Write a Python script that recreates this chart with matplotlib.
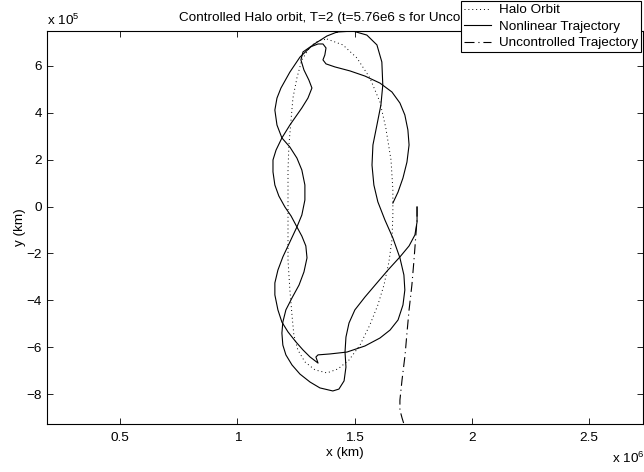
import numpy as np
import matplotlib
matplotlib.use("Agg")
import matplotlib.pyplot as plt
from matplotlib.ticker import FuncFormatter

plt.rcParams['font.family'] = ['Liberation Sans', 'DejaVu Sans']
plt.rcParams['font.size'] = 9.7
plt.rcParams['mathtext.default'] = 'regular'

# x in units of 1e6 km, y in units of 1e5 km
halo_x = [1.382, 1.450, 1.510, 1.565, 1.608, 1.633, 1.655, 1.663, 1.663, 1.659,
          1.646, 1.625, 1.599, 1.565, 1.523, 1.476, 1.429, 1.382, 1.331, 1.288,
          1.258, 1.241, 1.233, 1.224, 1.216, 1.216, 1.216, 1.216, 1.220, 1.229,
          1.237, 1.254, 1.275, 1.310, 1.344, 1.382]
halo_y = [7.15, 6.90, 6.34, 5.49, 4.46, 3.35, 1.99, 0.71, -0.36, -1.43,
          -2.37, -3.35, -4.20, -5.05, -5.91, -6.55, -6.93, -7.10, -6.97, -6.63,
          -6.12, -5.48, -4.63, -3.56, -2.28, -1.00, 0.28, 1.56, 2.63, 3.70,
          4.63, 5.49, 6.26, 6.81, 7.07, 7.15]

# nonlinear trajectory, first pass (starts at the offset point)
traj1_x = [1.766, 1.766, 1.757, 1.732, 1.693, 1.642, 1.595, 1.544, 1.501, 1.476,
           1.463, 1.459, 1.463, 1.455, 1.433, 1.407, 1.352, 1.310, 1.267, 1.233,
           1.207, 1.194, 1.190, 1.194, 1.207, 1.233, 1.263, 1.284, 1.297, 1.292,
           1.275, 1.254, 1.229, 1.203, 1.177, 1.160, 1.152, 1.152, 1.165, 1.190,
           1.224, 1.275, 1.301, 1.318, 1.305, 1.284, 1.271, 1.280, 1.310, 1.344,
           1.365, 1.378, 1.373, 1.365, 1.378, 1.416, 1.480, 1.544, 1.608, 1.659,
           1.693, 1.714, 1.727, 1.732, 1.723, 1.706, 1.685, 1.663]
traj1_y = [-0.02, -0.66, -1.21, -1.68, -2.15, -2.71, -3.26, -3.86, -4.41, -4.97,
           -5.57, -6.21, -6.85, -7.44, -7.79, -7.87, -7.74, -7.49, -7.15, -6.76,
           -6.33, -5.91, -5.40, -4.93, -4.41, -3.90, -3.35, -2.79, -2.19, -1.68,
           -1.26, -0.87, -0.40, -0.02, 0.45, 0.92, 1.48, 1.99, 2.41, 2.93,
           3.48, 4.21, 4.63, 5.06, 5.40, 5.83, 6.26, 6.60, 6.81, 6.94,
           6.94, 6.77, 6.47, 6.26, 6.09, 5.96, 5.79, 5.57, 5.27, 4.89,
           4.42, 3.91, 3.27, 2.63, 1.90, 1.22, 0.62, 0.15]

# nonlinear trajectory, outer loop
traj2_x = [1.425, 1.493, 1.552, 1.595, 1.616, 1.620, 1.612, 1.595, 1.578, 1.574,
           1.582, 1.599, 1.629, 1.663, 1.693, 1.710, 1.714, 1.706, 1.685, 1.651,
           1.608, 1.544, 1.467, 1.395, 1.344, 1.335, 1.344, 1.310, 1.280, 1.250,
           1.216, 1.190, 1.173, 1.160, 1.160, 1.173, 1.194, 1.224, 1.254, 1.275,
           1.288, 1.288, 1.275, 1.254, 1.224, 1.190, 1.169, 1.160, 1.169, 1.186,
           1.224, 1.267, 1.322, 1.382, 1.425]
traj2_y = [7.45, 7.49, 7.32, 6.90, 6.17, 5.19, 4.34, 3.48, 2.63, 1.77,
           0.92, 0.20, -0.57, -1.34, -2.19, -2.92, -3.56, -4.20, -4.84, -5.27,
           -5.61, -5.95, -6.21, -6.29, -6.33, -6.42, -6.68, -6.42, -6.12, -5.78,
           -5.35, -4.93, -4.41, -3.77, -3.26, -2.71, -2.15, -1.51, -0.87, -0.36,
           0.28, 0.92, 1.56, 2.07, 2.54, 2.93, 3.48, 4.12, 4.63, 5.06,
           5.74, 6.38, 6.90, 7.28, 7.45]

unc_x = [1.766, 1.766, 1.761, 1.753, 1.744, 1.732, 1.723, 1.715, 1.702, 1.693,
         1.693, 1.702, 1.710]
unc_y = [0.0, -0.57, -1.21, -2.28, -3.35, -4.41, -5.40, -6.33, -7.40, -8.26,
         -8.68, -9.02, -9.28]

xticks = [0.5, 1, 1.5, 2, 2.5]
yticks = [-8, -6, -4, -2, 0, 2, 4, 6]

fig = plt.figure(figsize=(6.44, 4.72), dpi=100)
ax = fig.add_axes([0.0725, 0.1017, 0.9252, 0.8333])

ax.plot(np.array(halo_x) * 1e6, np.array(halo_y) * 1e5, color='k',
        ls=(0, (1, 3)), lw=0.7, label='Halo Orbit')
ax.plot(np.array(traj1_x) * 1e6, np.array(traj1_y) * 1e5, color='k', lw=0.8,
        label='Nonlinear Trajectory')
ax.plot(np.array(traj2_x) * 1e6, np.array(traj2_y) * 1e5, color='k', lw=0.8,
        label='_nolegend_')
ax.plot(np.array(unc_x) * 1e6, np.array(unc_y) * 1e5, color='k',
        ls=(0, (9, 3.5, 1, 3.5)), lw=0.8, label='Uncontrolled Trajectory')

ax.set_xlim(0.1875e6, 2.727e6)
ax.set_ylim(-9.28e5, 7.507e5)
ax.set_xticks(np.array(xticks) * 1e6)
ax.set_yticks(np.array(yticks) * 1e5)
ax.xaxis.set_major_formatter(FuncFormatter(lambda v, p: f'{v / 1e6:g}'))
ax.yaxis.set_major_formatter(
    FuncFormatter(lambda v, p: f'{v / 1e5:g}'.replace('-', '\u2212')))
ax.tick_params(direction='in', top=True, right=True, length=4, width=0.6)
ax.tick_params(axis='x', pad=5.5)
ax.tick_params(axis='y', pad=3.5)
for s in ax.spines.values():
    s.set_linewidth(0.8)

ax.set_title('Controlled Halo orbit, T=2 (t=5.76e6 s for Uncontrolled)',
             fontsize=9.7, pad=7)
ax.set_xlabel('x (km)', labelpad=2.5)
ax.set_ylabel('y (km)', labelpad=0)

fig.text(47 / 644, 1 - 25 / 472, r'x 10$^{5}$', ha='left', va='baseline')
fig.text(611.7 / 644, 1 - 463 / 472, r'x 10$^{6}$', ha='left', va='baseline')

leg = ax.legend(loc='upper right', bbox_to_anchor=(641 / 644, 471 / 472),
                bbox_transform=fig.transFigure, fancybox=False, shadow=False,
                framealpha=1, edgecolor='k', borderpad=0.22, labelspacing=0.3,
                handlelength=2.0, handletextpad=0.6, borderaxespad=0)
leg.get_frame().set_linewidth(0.8)
leg.set_zorder(10)

fig.savefig('out.png', dpi=100)
